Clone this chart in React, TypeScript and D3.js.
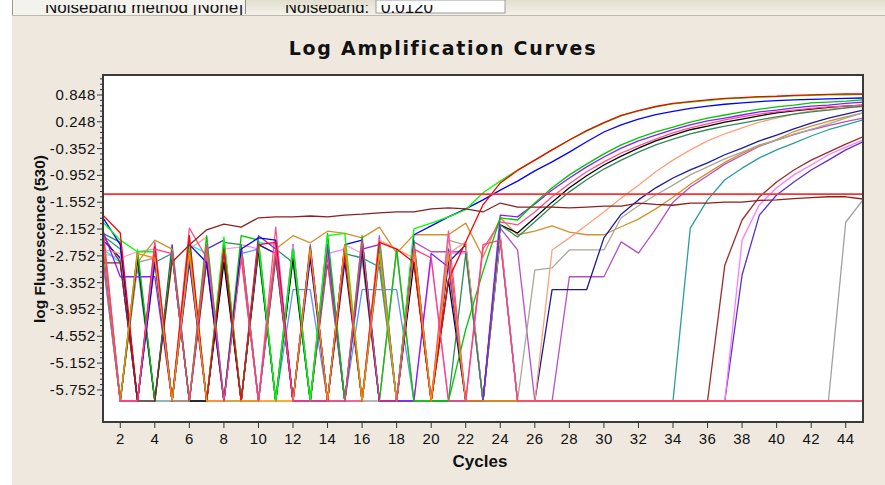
import React from 'react';
import * as d3 from 'd3';

const W = 885;
const H = 485;

const cycles = [1, 2, 3, 4, 5, 6, 7, 8, 9, 10, 11, 12, 13, 14, 15, 16, 17, 18, 19, 20, 21, 22, 23, 24, 25, 26, 27, 28, 29, 30, 31, 32, 33, 34, 35, 36, 37, 38, 39, 40, 41, 42, 43, 44, 45];
const xTickValues = [2, 4, 6, 8, 10, 12, 14, 16, 18, 20, 22, 24, 26, 28, 30, 32, 34, 36, 38, 40, 42, 44];
const yTickValues = [0.848, 0.248, -0.352, -0.952, -1.552, -2.152, -2.752, -3.352, -3.952, -4.552, -5.152, -5.752];
const thresholdValue = -1.37;

const red = [-1.84, -2.24, -6, -2.55, -6, -2.3, -6, -2.6, -6, -2.5, -2.45, -6, -2.6, -6, -2.7, -6, -2.45, -2.6, -2.9, -6, -3.29, -2.44, -1.61, -1.12, -0.84, -0.61, -0.38, -0.16, 0.05, 0.23, 0.39, 0.5, 0.59, 0.66, 0.7, 0.74, 0.77, 0.79, 0.81, 0.82, 0.84, 0.85, 0.86, 0.87, 0.87];
const lime = [-2.0, -2.4, -2.66, -2.66, -6, -2.5, -6, -2.33, -6, -2.5, -6, -2.6, -6, -2.3, -2.25, -6, -2.5, -6, -2.15, -2.02, -1.88, -1.72, -1.34, -1.08, -0.83, -0.61, -0.38, -0.16, 0.04, 0.22, 0.38, 0.49, 0.58, 0.65, 0.69, 0.72, 0.76, 0.78, 0.8, 0.81, 0.83, 0.84, 0.85, 0.85, 0.86];
const blue = [-1.9, -2.5, -6, -2.9, -6, -2.5, -2.9, -6, -2.6, -2.35, -2.4, -6, -2.8, -6, -2.5, -2.4, -6, -6, -2.28, -2.08, -1.88, -1.7, -1.5, -1.28, -1.08, -0.85, -0.65, -0.43, -0.2, 0.02, 0.18, 0.31, 0.41, 0.48, 0.55, 0.6, 0.64, 0.67, 0.7, 0.72, 0.74, 0.75, 0.76, 0.77, 0.78];
const green2 = [-2.3, -6, -2.66, -6, -2.66, -6, -2.3, -6, -2.3, -2.4, -6, -2.6, -6, -2.25, -6, -2.3, -6, -2.6, -6, -6, -6, -4.4, -3.1, -1.9, -1.95, -1.57, -1.23, -0.94, -0.7, -0.47, -0.27, -0.11, 0.02, 0.13, 0.24, 0.33, 0.4, 0.47, 0.53, 0.58, 0.62, 0.67, 0.69, 0.71, 0.74];
const purple = [-2.2, -3.22, -3.22, -3.22, -6, -2.8, -6, -2.6, -6, -2.3, -2.6, -6, -6, -2.5, -6, -2.6, -2.5, -6, -6, -2.7, -3.0, -6, -6, -1.84, -1.88, -1.59, -1.28, -1.01, -0.76, -0.54, -0.34, -0.18, -0.05, 0.07, 0.18, 0.27, 0.33, 0.4, 0.47, 0.51, 0.56, 0.6, 0.62, 0.66, 0.69];
const hotPink = [-2.1, -6, -6, -2.5, -6, -2.13, -2.8, -6, -2.6, -6, -2.11, -6, -6, -2.7, -6, -6, -2.4, -6, -2.5, -6, -2.2, -6, -2.6, -1.99, -2.06, -1.77, -1.43, -1.14, -0.87, -0.65, -0.45, -0.29, -0.14, 0.0, 0.11, 0.2, 0.29, 0.36, 0.42, 0.47, 0.51, 0.55, 0.58, 0.6, 0.62];
const darkGreen = [-2.25, -2.45, -6, -2.7, -6, -2.6, -6, -2.45, -2.5, -6, -2.7, -6, -2.55, -6, -2.5, -6, -2.7, -6, -2.4, -6, -6, -2.7, -6, -2.06, -2.33, -1.99, -1.64, -1.32, -1.05, -0.81, -0.61, -0.43, -0.27, -0.14, -0.02, 0.07, 0.15, 0.22, 0.29, 0.36, 0.42, 0.47, 0.51, 0.56, 0.6];
const black = [-2.4, -6, -2.8, -6, -2.7, -6, -6, -2.9, -6, -2.6, -6, -2.8, -6, -2.7, -6, -2.6, -6, -6, -2.9, -6, -3.3, -6, -6, -2.06, -2.24, -1.9, -1.55, -1.23, -0.96, -0.72, -0.52, -0.34, -0.18, -0.05, 0.07, 0.15, 0.24, 0.31, 0.38, 0.45, 0.49, 0.53, 0.57, 0.6, 0.62];
const salmon = [-2.6, -2.7, -6, -2.8, -6, -2.6, -2.33, -6, -2.7, -6, -2.5, -6, -2.8, -6, -2.6, -6, -2.4, -2.6, -2.8, -6, -2.7, -2.44, -6, -2.3, -6, -6, -2.62, -2.35, -2.06, -1.77, -1.46, -1.17, -0.87, -0.61, -0.38, -0.18, -0.02, 0.11, 0.24, 0.33, 0.42, 0.49, 0.53, 0.56, 0.58];
const navy = [-2.4, -2.8, -6, -2.7, -6, -2.9, -6, -2.6, -6, -2.5, -2.7, -6, -2.6, -6, -2.9, -6, -2.6, -6, -2.5, -6, -2.9, -2.5, -6, -2.35, -6, -6, -3.51, -3.51, -3.51, -2.35, -1.82, -1.5, -1.23, -1.01, -0.83, -0.67, -0.49, -0.34, -0.18, -0.05, 0.09, 0.22, 0.33, 0.42, 0.51];
const grayKhaki = [-2.5, -6, -2.6, -6, -6, -6, -6, -2.7, -6, -2.4, -6, -2.6, -6, -2.8, -6, -2.5, -6, -2.6, -6, -6, -2.4, -2.51, -6, -2.4, -6, -3.07, -3.02, -2.62, -2.62, -2.62, -1.9, -1.63, -1.39, -1.17, -0.94, -0.76, -0.58, -0.43, -0.27, -0.16, -0.03, 0.08, 0.2, 0.33, 0.45];
const golden = [-2.5, -6, -2.9, -2.4, -2.6, -6, -2.55, -6, -2.5, -6, -2.6, -2.3, -2.46, -2.2, -2.25, -2.35, -2.11, -2.69, -2.28, -2.28, -2.28, -2.02, -2.78, -1.9, -2.28, -2.2, -2.08, -2.22, -2.28, -2.28, -2.1, -1.93, -1.7, -1.44, -1.15, -0.9, -0.66, -0.46, -0.29, -0.15, 0.03, 0.15, 0.26, 0.36, 0.45];
const teal = [-2.7, -6, -6, -2.8, -6, -2.6, -6, -2.8, -6, -2.7, -6, -2.8, -6, -2.6, -6, -2.8, -3.0, -6, -6, -6, -6, -6, -6, -6, -6, -6, -6, -6, -6, -6, -6, -6, -6, -6, -2.13, -1.5, -1.05, -0.79, -0.56, -0.38, -0.23, -0.07, 0.07, 0.18, 0.29];
const orchid = [-2.8, -6, -6, -2.44, -6, -2.7, -6, -2.6, -6, -2.5, -2.7, -6, -2.5, -6, -2.6, -6, -2.3, -6, -2.44, -2.66, -2.66, -2.66, -6, -2.13, -2.62, -6, -6, -3.22, -3.22, -3.22, -2.44, -2.69, -2.15, -1.55, -1.21, -0.96, -0.7, -0.5, -0.3, -0.16, -0.04, 0.07, 0.16, 0.25, 0.33];
const maroonLate = [-2.3, -2.9, -6, -2.7, -6, -6, -2.9, -6, -2.7, -6, -2.8, -6, -6, -2.9, -6, -2.7, -6, -6, -6, -6, -2.8, -6, -6, -6, -6, -6, -6, -6, -6, -6, -6, -6, -6, -6, -6, -6, -2.96, -1.95, -1.43, -1.1, -0.83, -0.61, -0.43, -0.25, -0.09];
const violet = [-2.8, -6, -2.66, -2.6, -6, -2.7, -6, -6, -2.5, -2.6, -6, -2.5, -6, -2.7, -2.6, -6, -2.6, -6, -6, -2.8, -6, -6, -6, -6, -6, -6, -6, -6, -6, -6, -6, -6, -6, -6, -6, -6, -6, -2.4, -1.61, -1.23, -0.94, -0.72, -0.49, -0.32, -0.16];
const blueViolet = [-2.5, -6, -2.8, -6, -2.5, -6, -2.6, -2.4, -6, -2.6, -6, -2.5, -6, -6, -2.7, -6, -2.8, -6, -6, -6, -2.6, -6, -6, -6, -6, -6, -6, -6, -6, -6, -6, -6, -6, -6, -6, -6, -6, -3.18, -1.84, -1.39, -1.1, -0.83, -0.61, -0.38, -0.2];
const grayLate = [-2.7, -6, -2.9, -2.8, -6, -6, -6, -2.7, -6, -6, -2.8, -6, -6, -6, -6, -6, -6, -6, -6, -6, -6, -6, -6, -6, -6, -6, -6, -6, -6, -6, -6, -6, -6, -6, -6, -6, -6, -6, -6, -6, -6, -6, -6, -2.0, -1.5];
const maroonFlat = [-2.91, -2.91, -6, -6, -2.89, -2.51, -2.17, -2.04, -2.11, -1.9, -1.88, -1.88, -1.86, -1.88, -1.84, -1.82, -1.79, -1.77, -1.77, -1.7, -1.68, -1.7, -1.77, -1.57, -1.66, -1.66, -1.66, -1.68, -1.66, -1.64, -1.64, -1.57, -1.6, -1.62, -1.57, -1.57, -1.55, -1.55, -1.51, -1.5, -1.47, -1.45, -1.43, -1.43, -1.48];
const orange = [-2.4, -6, -2.7, -2.8, -6, -2.7, -6, -6, -6, -6, -6, -6, -2.6, -6, -2.5, -6, -2.7, -6, -2.6, -6, -2.7, -6, -6, -6, -6, -6, -6, -6, -6, -6, -6, -6, -6, -6, -6, -6, -6, -6, -6, -6, -6, -6, -6, -6, -6];
const cyan = [-2.6, -2.9, -6, -6, -6, -2.5, -2.7, -6, -6, -2.45, -2.5, -6, -6, -2.4, -6, -2.6, -6, -6, -6, -6, -6, -6, -6, -6, -6, -6, -6, -6, -6, -6, -6, -6, -6, -6, -6, -6, -6, -6, -6, -6, -6, -6, -6, -6, -6];
const cornflower = [-2.9, -6, -3.0, -6, -2.7, -6, -2.6, -6, -2.7, -2.6, -6, -3.51, -3.51, -6, -6, -3.51, -3.51, -3.51, -6, -6, -2.6, -6, -6, -2.3, -6, -6, -6, -6, -6, -6, -6, -6, -6, -6, -6, -6, -6, -6, -6, -6, -6, -6, -6, -6, -6];
const lightPink = [-2.7, -2.8, -2.66, -6, -6, -2.7, -6, -2.6, -2.55, -6, -2.6, -6, -2.55, -6, -2.5, -2.7, -6, -2.7, -6, -6, -2.7, -2.7, -6, -6, -6, -6, -6, -6, -6, -6, -6, -6, -6, -6, -6, -6, -6, -6, -6, -6, -6, -6, -6, -6, -6];
const seaGreen = [-2.3, -2.6, -6, -2.9, -2.7, -6, -2.8, -6, -2.7, -6, -2.6, -2.9, -6, -6, -2.7, -2.8, -6, -6, -2.8, -6, -6, -6, -6, -6, -6, -6, -6, -6, -6, -6, -6, -6, -6, -6, -6, -6, -6, -6, -6, -6, -6, -6, -6, -6, -6];
const floorPink = [-2.2, -6, -6, -2.6, -2.7, -6, -2.5, -6, -2.8, -6, -2.6, -6, -6, -6, -6, -2.4, -6, -6, -2.6, -2.8, -6, -6, -2.5, -2.4, -6, -6, -6, -6, -6, -6, -6, -6, -6, -6, -6, -6, -6, -6, -6, -6, -6, -6, -6, -6, -6];

const seriesList = [
  { name: 'seaGreen', color: '#2F8F80', values: seaGreen },
  { name: 'lightPink', color: '#FF9AD8', values: lightPink },
  { name: 'cornflower', color: '#5F8FFF', values: cornflower },
  { name: 'cyan', color: '#00FFFF', values: cyan },
  { name: 'grayLate', color: '#A0A0A0', values: grayLate },
  { name: 'blueViolet', color: '#5A2FD0', values: blueViolet },
  { name: 'violet', color: '#FF7CFF', values: violet },
  { name: 'maroonLate', color: '#9E2B2B', values: maroonLate },
  { name: 'teal', color: '#2A9D9D', values: teal },
  { name: 'orchid', color: '#B84FC9', values: orchid },
  { name: 'golden', color: '#D2912E', values: golden },
  { name: 'grayKhaki', color: '#A8A898', values: grayKhaki },
  { name: 'navy', color: '#1A1A9A', values: navy },
  { name: 'salmon', color: '#FFA07A', values: salmon },
  { name: 'black', color: '#000000', values: black },
  { name: 'darkGreen', color: '#2E8B57', values: darkGreen },
  { name: 'hotPink', color: '#FF4F8B', values: hotPink },
  { name: 'purple', color: '#8C1AFF', values: purple },
  { name: 'green2', color: '#00C800', values: green2 },
  { name: 'blue', color: '#0000FF', values: blue },
  { name: 'lime', color: '#00FF00', values: lime },
  { name: 'red', color: '#FF0000', values: red },
  { name: 'maroonFlat', color: '#8B2020', values: maroonFlat },
  { name: 'orange', color: '#FF8C00', values: orange },
  { name: 'floorPink', color: '#FF3D7F', values: floorPink },
];

const plot = { left: 103, right: 863, top: 75, bottom: 422 };

export default function App() {
  const x = d3.scaleLinear().domain([1, 45]).range([plot.left, plot.right]);
  const y = d3.scaleLinear().domain([-6.47, 1.295]).range([plot.bottom, plot.top]);
  const line = d3
    .line<number>()
    .x((_, i) => x(cycles[i]))
    .y((d) => y(d));

  const minorTicks = d3
    .range(-56, 5)
    .filter((k) => k % 5 !== 0)
    .map((k) => 0.848 + k * 0.12)
    .filter((v) => v > -6.47 && v < 1.295);

  const tickFont = "'Liberation Sans', Arial, sans-serif";

  return (
    <svg
      width={W}
      height={H}
      style={{ position: 'absolute', left: 0, top: 0, display: 'block' }}
      xmlns="http://www.w3.org/2000/svg"
    >
      <defs>
        <linearGradient id="strip" x1="0" y1="0" x2="0" y2="1">
          <stop offset="0" stopColor="#E2DECF" />
          <stop offset="1" stopColor="#F3F1EA" />
        </linearGradient>
        <clipPath id="stripClip">
          <rect x={0} y={5} width={W} height={10} />
        </clipPath>
        <clipPath id="plotClip">
          <rect x={plot.left} y={plot.top} width={plot.right - plot.left} height={plot.bottom - plot.top} />
        </clipPath>
      </defs>

      <rect x={0} y={0} width={W} height={H} fill="#FFFFFF" />
      <rect x={12} y={16} width={W - 12} height={H - 16} fill="#EEE8DE" />

      {/* toolbar strip */}
      <rect x={12} y={0} width={W - 12} height={15} fill="url(#strip)" />
      <rect x={13} y={0} width={232} height={14} fill="#F4F2EC" />
      <rect x={376} y={0} width={129} height={13} fill="#FFFFFF" stroke="#9A9A9A" strokeWidth={1} />
      <line x1={12.5} y1={0} x2={12.5} y2={15} stroke="#9C9A92" />
      <line x1={245.5} y1={0} x2={245.5} y2={14} stroke="#8E8C84" />
      <line x1={12} y1={15.5} x2={W} y2={15.5} stroke="#BDB9AC" />
      <g clipPath="url(#stripClip)" fontFamily={tickFont} fontSize={17} fill="#111">
        <text x={45} y={12.5} textLength={198} lengthAdjust="spacingAndGlyphs">Noiseband method [None]</text>
        <text x={285} y={12.5} textLength={84} lengthAdjust="spacingAndGlyphs">Noiseband:</text>
        <text x={381} y={12.5}>0.0120</text>
      </g>

      {/* title */}
      <text
        x={443}
        y={55}
        textAnchor="middle"
        fontFamily="'DejaVu Sans', Verdana, sans-serif"
        fontWeight="bold"
        fontSize={19}
        letterSpacing={1.7}
        fill="#111"
      >
        Log Amplification Curves
      </text>

      {/* plot background */}
      <rect x={plot.left} y={plot.top} width={plot.right - plot.left} height={plot.bottom - plot.top} fill="#FFFFFF" />

      {/* curves */}
      <g clipPath="url(#plotClip)" fill="none" strokeWidth={1.3} strokeLinejoin="round">
        {seriesList.map((s) => (
          <path key={s.name} d={line(s.values) || ''} stroke={s.color} />
        ))}
        <line
          x1={plot.left}
          x2={plot.right}
          y1={y(thresholdValue)}
          y2={y(thresholdValue)}
          stroke="#FF3030"
          strokeWidth={1.8}
        />
      </g>

      {/* frame */}
      <rect
        x={plot.left}
        y={plot.top}
        width={plot.right - plot.left}
        height={plot.bottom - plot.top}
        fill="none"
        stroke="#3A3A3A"
        strokeWidth={2}
      />

      {/* y axis ticks */}
      <g stroke="#333">
        {yTickValues.map((v) => (
          <line key={'M' + v} x1={97} x2={plot.left} y1={y(v)} y2={y(v)} />
        ))}
        {minorTicks.map((v, i) => (
          <line key={'m' + i} x1={100} x2={plot.left} y1={y(v)} y2={y(v)} />
        ))}
      </g>
      <g fontFamily={tickFont} fontSize={15} fill="#111" textAnchor="end" letterSpacing={0.6}>
        {yTickValues.map((v) => (
          <text key={'t' + v} x={96} y={y(v) + 5}>
            {v.toFixed(3)}
          </text>
        ))}
      </g>

      {/* x axis ticks */}
      <g stroke="#333">
        {xTickValues.map((c) => (
          <line key={'x' + c} x1={x(c)} x2={x(c)} y1={plot.bottom} y2={plot.bottom + 6} />
        ))}
      </g>
      <g fontFamily={tickFont} fontSize={15} fill="#111" textAnchor="middle" letterSpacing={0.4}>
        {xTickValues.map((c) => (
          <text key={'xl' + c} x={x(c)} y={443.5}>
            {c}
          </text>
        ))}
      </g>

      {/* axis titles */}
      <text x={480} y={467} textAnchor="middle" fontFamily={tickFont} fontWeight="bold" fontSize={17} fill="#111">
        Cycles
      </text>
      <text
        transform="translate(45,239) rotate(-90)"
        textAnchor="middle"
        fontFamily={tickFont}
        fontWeight="bold"
        fontSize={15.5}
        fill="#111"
      >
        log Fluorescence (530)
      </text>
    </svg>
  );
}
